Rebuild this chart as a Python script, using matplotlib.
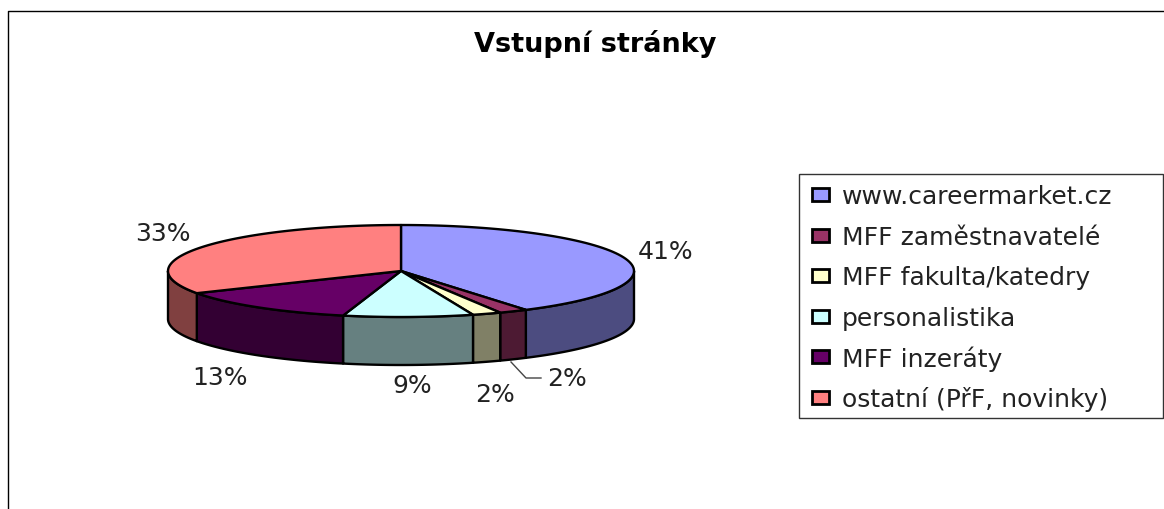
import numpy as np
import matplotlib
matplotlib.use('Agg')
import matplotlib.pyplot as plt
from matplotlib.patches import Polygon, Rectangle

categories = ['www.careermarket.cz', 'MFF zaměstnavatelé', 'MFF fakulta/katedry',
              'personalistika', 'MFF inzeráty', 'ostatní (PřF, novinky)']
values = [41, 2, 2, 9, 13, 33]
labels = ['41%', '2%', '2%', '9%', '13%', '33%']
top_colors = ['#9999FF', '#993366', '#FFFFCC', '#CCFFFF', '#660066', '#FF8080']
side_colors = ['#4C4C80', '#4D1A33', '#808066', '#668080', '#330033', '#804040']
label_pos = [(666, 252), (567, 379), (495, 395), (412, 386), (220, 378), (163, 234)]

# the reference text is stretched sideways, DejaVu is the closest in width
plt.rcParams['font.family'] = ['DejaVu Sans']

fig = plt.figure(figsize=(11.64, 5.10), dpi=100)
ax = fig.add_axes([0, 0, 1, 1])
ax.set_xlim(0, 1164)
ax.set_ylim(510, 0)
ax.axis('off')

# chart border, only top and left are visible
ax.plot([8, 8, 1164], [510, 12, 12], color='black', lw=1)

cx, cy = 401, 272
rx, ry = 233, 46
depth = 48


def arc(a0, a1):
    t = np.radians(np.linspace(a0, a1, 80))
    return np.column_stack([cx + rx * np.sin(t), cy - ry * np.cos(t)])


angles = np.cumsum([0] + values) / sum(values) * 360

# side walls, only the front half of the rim shows
for i in range(len(values)):
    a0 = max(angles[i], 90)
    a1 = min(angles[i + 1], 270)
    if a1 <= a0:
        continue
    rim = arc(a0, a1)
    low = rim[::-1] + [0, depth]
    ax.add_patch(Polygon(np.vstack([rim, low]), closed=True, fc=side_colors[i],
                         ec='black', lw=1.7, joinstyle='round'))

# top faces
for i in range(len(values)):
    rim = arc(angles[i], angles[i + 1])
    ax.add_patch(Polygon(np.vstack([[cx, cy], rim]), closed=True, fc=top_colors[i],
                         ec='black', lw=1.7, joinstyle='round'))

for (x, y), lab in zip(label_pos, labels):
    ax.text(x, y, lab, fontsize=18, color='#222222', ha='center', va='center')

# leader line for the small slice
ax.plot([511, 526, 541], [363, 379, 379], color='#444444', lw=1)

ax.text(595, 44, 'Vstupní stránky', fontsize=19.5, fontweight='bold', ha='center',
        va='center', color='black')

# legend
ax.add_patch(Rectangle((799, 175), 364, 244, fc='white', ec='#333333', lw=1))
rows = [196, 237, 277, 318, 358, 399]
for y, name, col in zip(rows, categories, top_colors):
    ax.add_patch(Rectangle((812, y - 7), 17, 13, fc=col, ec='black', lw=2))
    ax.text(842, y + 1, name, fontsize=18, color='#222222', ha='left', va='center')

fig.savefig('out.png', dpi=100)
